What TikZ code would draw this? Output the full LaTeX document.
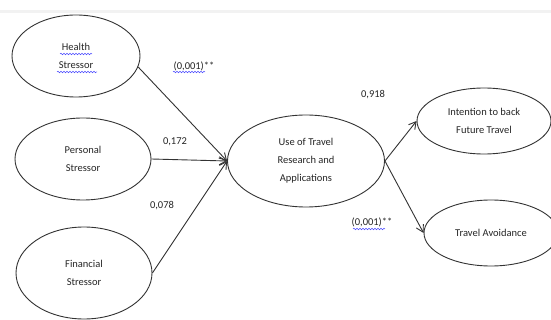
\documentclass[tikz,border=0pt]{standalone}
\usepackage{fontspec}
\setmainfont{Carlito}
\usetikzlibrary{arrows.meta,decorations.pathmorphing,shapes.geometric}
\begin{document}
\begin{tikzpicture}[x=1pt,y=-1pt,
  ell/.style={draw=black!80,line width=0.9pt,ellipse,inner sep=0pt,align=center,font=\fontsize{10.5}{18}\selectfont,text=black!85},
  con/.style={draw=black!80,line width=0.9pt,-{Straight Barb[length=7pt,width=8pt]}},
  lab/.style={font=\fontsize{10.5}{12}\selectfont,text=black!85},
  squig/.style={draw=blue!70,line width=0.5pt,decorate,decoration={snake,amplitude=0.8pt,segment length=3pt}}]
\useasboundingbox (0,0) rectangle (551,320);
\fill[white] (0,0) rectangle (551,320);
\fill[black!5] (0,10) rectangle (551,13);
\node[ell,minimum width=128pt,minimum height=82pt] (health) at (76,56) {Health\\Stressor};
\node[ell,minimum width=136pt,minimum height=82pt] (personal) at (83,159) {Personal\\Stressor};
\node[ell,minimum width=136pt,minimum height=92pt] (financial) at (84,273) {Financial\\Stressor};
\node[ell,minimum width=157pt,minimum height=92pt] (use) at (306,161) {Use of Travel\\Research and\\Applications};
\node[ell,minimum width=134pt,minimum height=66pt] (intent) at (484,121) {Intention to back\\Future Travel};
\node[ell,minimum width=134pt,minimum height=66pt] (avoid) at (491,233) {Travel Avoidance};
\draw[con] (health.-10) -- (use.west);
\draw[con] (personal.east) -- (use.west);
\draw[con] (financial.east) -- (use.west);
\draw[con] (use.east) -- (intent.west);
\draw[con] (use.east) -- (avoid.west);
\node[lab] (l1) at (194,66) {(0,001)**};
\node[lab] (l2) at (175,142) {0,172};
\node[lab] (l3) at (162,206) {0,078};
\node[lab] (l4) at (373,95) {0,918};
\node[lab] (l5) at (372,222) {(0,001)**};
\draw[squig] (60,54) -- (92,54);
\draw[squig] (57,72) -- (97,72);
\draw[squig] (173,72) -- (205,72);
\draw[squig] (353,229) -- (385,229);
\end{tikzpicture}
\end{document}
